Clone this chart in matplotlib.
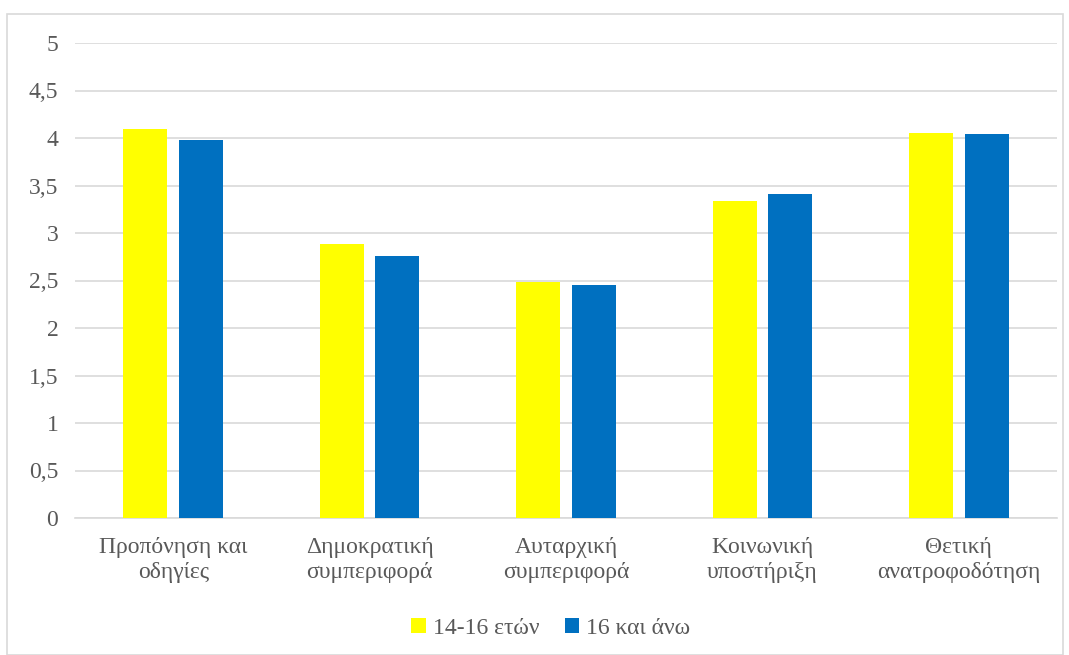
import matplotlib
matplotlib.use("Agg")
import matplotlib.pyplot as plt
import numpy as np
from matplotlib.patches import Rectangle

categories = ["Προπόνηση και\nοδηγίες", "Δημοκρατική\nσυμπεριφορά", "Αυταρχική\nσυμπεριφορά",
              "Κοινωνική\nυποστήριξη", "Θετική\nανατροφοδότηση"]
series_names = ["14-16 ετών", "16 και άνω"]
values_young = [4.10, 2.88, 2.48, 3.34, 4.05]
values_old = [3.98, 2.76, 2.45, 3.41, 4.04]
yticks = [0, 0.5, 1, 1.5, 2, 2.5, 3, 3.5, 4, 4.5, 5]
ytick_labels = ["0", "0,5", "1", "1,5", "2", "2,5", "3", "3,5", "4", "4,5", "5"]
colors = ["#FFFF00", "#0070C0"]

plt.rcParams['font.family'] = ['Liberation Serif', 'DejaVu Serif']

W, H = 1069, 655
fig = plt.figure(figsize=(W/100, H/100), dpi=100)
ax = fig.add_axes([75/W, 1-518/H, (1057-75)/W, (518-43)/H])

x = np.arange(len(categories))
bw = 0.224
off = 0.142
ax.bar(x - off, values_young, bw, color=colors[0], label=series_names[0], zorder=3)
ax.bar(x + off, values_old, bw, color=colors[1], label=series_names[1], zorder=3)

ax.set_xlim(-0.5, len(categories) - 0.5)
ax.set_ylim(0, 5)
ax.set_yticks(yticks)
ax.set_yticklabels(ytick_labels)
ax.set_xticks(x)
ax.set_xticklabels(categories, linespacing=1.2)
ax.grid(axis='y', color='#D9D9D9', linewidth=1.2, zorder=0)
for s in ['top', 'right', 'left']:
    ax.spines[s].set_visible(False)
ax.spines['bottom'].set_color('#D9D9D9')
ax.spines['bottom'].set_linewidth(1.2)
ax.tick_params(axis='both', length=0, labelsize=17, colors='#595959')
ax.tick_params(axis='y', pad=12)
ax.tick_params(axis='x', pad=14)

leg = fig.legend(loc='center', bbox_to_anchor=(551/W, 1-628/H), ncol=2, frameon=False,
                 fontsize=17, handlelength=0.6, handleheight=0.6, handletextpad=0.3,
                 columnspacing=1.1)
for t in leg.get_texts():
    t.set_color('#595959')

fig.patches.append(Rectangle((7/W, 0), (1063-7)/W, 1-14/H, transform=fig.transFigure,
                             fill=False, edgecolor='#D9D9D9', linewidth=1.2))

fig.savefig("out.png", dpi=100)
